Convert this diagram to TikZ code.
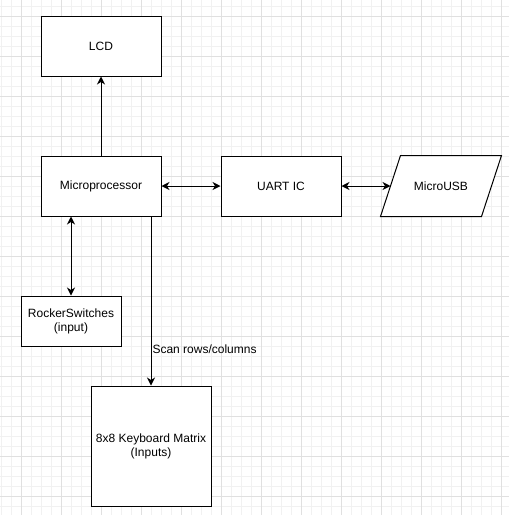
\documentclass[tikz,border=0pt]{standalone}
\usepackage{fontspec}
\setmainfont{Liberation Sans}
\usetikzlibrary{arrows.meta}
\definecolor{gridminor}{HTML}{F1F1F1}
\definecolor{gridmajor}{HTML}{E0E0E0}
\begin{document}
\begin{tikzpicture}[x=1pt,y=-1pt,
  box/.style={draw, line width=1pt, fill=white, align=center, inner sep=0pt,
    font=\fontsize{12}{14}\selectfont},
  tip/.style={},
  link/.style={line width=1pt, -{Stealth[length=8pt,width=8pt,inset=2.5pt]}},
  blink/.style={line width=1pt, {Stealth[length=8pt,width=8pt,inset=2.5pt]}-{Stealth[length=8pt,width=8pt,inset=2.5pt]}},
  minorline/.style={draw=gridminor, line width=1pt},
  majorline/.style={draw=gridmajor, line width=1pt},
  lbl/.style={font=\fontsize{12}{14}\selectfont, inner sep=1pt}
]
\useasboundingbox (0,0) rectangle (509,515);
\fill[white] (0,0) rectangle (509,515);
% grid
\foreach \x in {1,11,...,509} \draw[minorline] (\x,0) -- (\x,515);
\foreach \y in {6,16,...,515} \draw[minorline] (0,\y) -- (509,\y);
\foreach \x in {21,61,...,509} \draw[majorline] (\x,0) -- (\x,515);
\foreach \y in {16,56,...,515} \draw[majorline] (0,\y) -- (509,\y);

% nodes
\node[box, minimum width=120, minimum height=60] (lcd) at (101,46) {LCD};
\node[box, minimum width=120, minimum height=60] (micro) at (101,186) {Microprocessor};
\node[box, minimum width=120, minimum height=60] (uart) at (281,186) {UART IC};
\node[box, minimum width=100, minimum height=50] (rocker) at (71,321) {RockerSwitches\\(input)};
\node[box, minimum width=120, minimum height=120] (kbd) at (151,446) {8x8 Keyboard Matrix\\(Inputs)};
\node[box, draw=none, fill=none, minimum width=100, minimum height=60] (usb) at (441,186) {};
\filldraw[fill=white, line width=1pt]
  ([xshift=-10pt]usb.south west) -- ([xshift=10pt]usb.north west) --
  ([xshift=10pt]usb.north east) -- ([xshift=-10pt]usb.south east) -- cycle;
\node[box, draw=none, fill=none] (usbtext) at (usb.center) {MicroUSB};

% connectors
\draw[link] (micro.north) -- (lcd.south);
\draw[blink] (micro.east) -- (uart.west);
\draw[blink] (uart.east) -- (usb.west);
\draw[blink] (micro.south -| rocker.north) -- (rocker.north);
\draw[link] (micro.south -| kbd.north) -- node[lbl, pos=0.785, anchor=west] (scan) {Scan rows/columns} (kbd.north);
\end{tikzpicture}
\end{document}
